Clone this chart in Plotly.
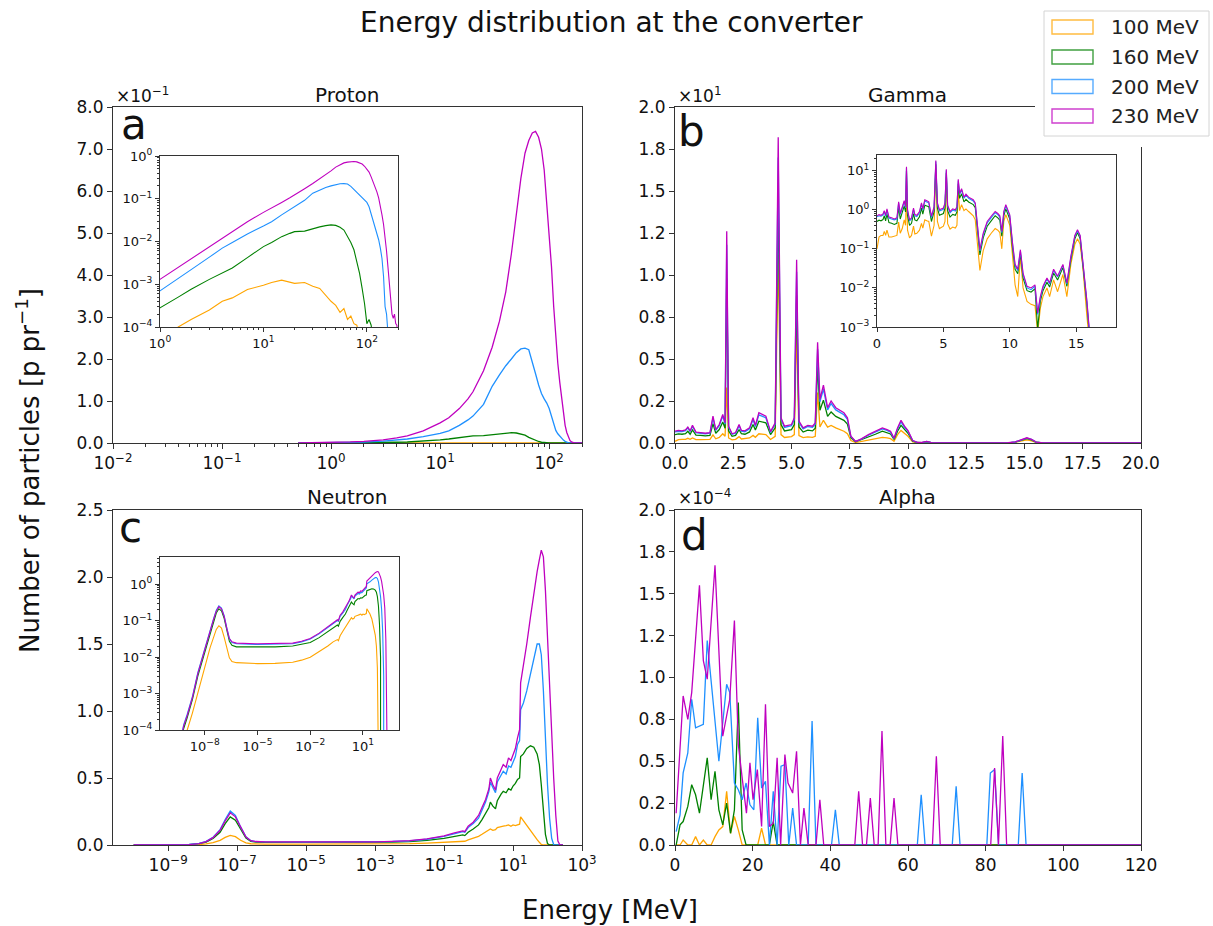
import plotly.graph_objects as go

FONT = "DejaVu Sans"
W, H = 1213, 926

LABELS = ["100 MeV", "160 MeV", "200 MeV", "230 MeV"]
COLORS = ["#FFA500", "#008000", "#1E90FF", "#BF00BF"]

# ---------------- Proton (energy in MeV, particles per primary) ----------------
proton_energy = [0.5, 0.7, 1.0, 1.5, 2.0, 3.0, 4.0, 5.0, 7.0, 10.0,
                 12.0, 15.0, 18.0, 20.0, 25.0, 30.0, 35.0, 40.0, 45.0, 50.0,
                 55.0, 60.0, 65.0, 70.0, 75.0, 80.0, 85.0, 90.0, 95.0, 100.0,
                 105.0, 110.0, 115.0, 120.0, 125.0, 130.0, 135.0, 140.0, 145.0, 150.0,
                 155.0, 160.0, 165.0, 170.0, 175.0, 180.0, 185.0, 190.0, 195.0, 200.0]
proton_100 = [1e-5, 2e-5, 4e-5, 1e-4, 1.5e-4, 2.5e-4, 4e-4, 4.8e-4, 7.5e-4, 9.5e-4,
              1.1e-3, 1.25e-3, 1.1e-3, 1.05e-3, 1.1e-3, 9e-4, 8e-4, 5.5e-4, 4e-4, 3.2e-4,
              2.2e-4, 2.7e-4, 1.5e-4, 1.8e-4, 1.2e-4, 1.1e-4, 6e-5, 3e-5, 1e-5, 1e-5,
              1e-5, 1e-5, 1e-5, 1e-5, 1e-5, 1e-5, 1e-5, 1e-5, 1e-5, 1e-5,
              1e-5, 1e-5, 1e-5, 1e-5, 1e-5, 1e-5, 1e-5, 1e-5, 1e-5, 1e-5]
proton_160 = [8e-5, 1.5e-4, 2.8e-4, 5e-4, 7.6e-4, 1.3e-3, 1.8e-3, 2.4e-3, 4.2e-3, 7.6e-3,
              9.5e-3, 0.013, 0.0155, 0.017, 0.0175, 0.02, 0.022, 0.0235, 0.0245, 0.0238,
              0.0215, 0.0185, 0.0135, 0.0095, 0.0064, 3.6e-3, 1.8e-3, 8e-4, 3.5e-4, 1.2e-4,
              1.5e-4, 1.1e-4, 3e-5, 1e-5, 1e-5, 1e-5, 1e-5, 1e-5, 1e-5, 1e-5,
              1e-5, 1e-5, 1e-5, 1e-5, 1e-5, 1e-5, 1e-5, 1e-5, 1e-5, 1e-5]
proton_200 = [2e-4, 4e-4, 7e-4, 1.4e-3, 2.2e-3, 4.3e-3, 7e-3, 9.5e-3, 0.015, 0.023,
              0.029, 0.042, 0.055, 0.064, 0.092, 0.135, 0.162, 0.184, 0.200, 0.215,
              0.224, 0.226, 0.222, 0.195, 0.165, 0.138, 0.118, 0.105, 0.095, 0.082,
              0.065, 0.045, 0.03, 0.022, 0.016, 0.011, 0.007, 0.004, 1.5e-3, 3e-4,
              2e-4, 5e-5, 1e-5, 1e-5, 1e-5, 1e-5, 1e-5, 1e-5, 1e-5, 1e-5]
proton_230 = [3.5e-4, 7e-4, 1.3e-3, 2.5e-3, 3.8e-3, 7.5e-3, 0.012, 0.017, 0.029, 0.048,
              0.06, 0.082, 0.105, 0.122, 0.172, 0.228, 0.29, 0.36, 0.45, 0.55,
              0.63, 0.69, 0.72, 0.738, 0.742, 0.728, 0.70, 0.65, 0.575, 0.50,
              0.42, 0.325, 0.25, 0.19, 0.145, 0.105, 0.07, 0.042, 0.025, 0.013,
              0.006, 2.5e-3, 1e-3, 3e-4, 2e-4, 1.6e-4, 2e-4, 1.2e-4, 1.1e-4, 5e-5]

# ---------------- Gamma ----------------
gamma_energy = [0.0, 0.15, 0.3, 0.45, 0.55, 0.65, 0.75, 0.9, 1.1, 1.3,
                1.5, 1.63, 1.75, 1.9, 2.05, 2.15, 2.22, 2.3, 2.45, 2.6,
                2.75, 2.85, 3.0, 3.2, 3.35, 3.45, 3.6, 3.75, 3.9, 4.1,
                4.3, 4.43, 4.55, 4.7, 4.85, 5.0, 5.12, 5.22, 5.32, 5.5,
                5.7, 5.9, 6.02, 6.12, 6.22, 6.37, 6.55, 6.7, 6.9, 7.1,
                7.25, 7.4, 7.55, 7.75, 8.0, 8.3, 8.6, 8.9, 9.1, 9.25,
                9.4, 9.55, 9.7, 9.85, 10.0, 10.2, 10.4, 10.6, 10.8, 11.0,
                11.3, 11.6, 11.9, 12.1, 12.3, 12.5, 12.8, 13.0, 13.3, 13.6,
                14.0, 14.3, 14.6, 14.9, 15.1, 15.3, 15.5, 15.8, 16.0, 16.2,
                18.0, 20.0]
gamma_100 = [0.10, 0.20, 0.22, 0.22, 0.28, 0.22, 0.30, 0.20, 0.20, 0.21,
             0.22, 0.48, 0.25, 0.33, 0.55, 0.40, 3.30, 0.30, 0.19, 0.22,
             0.38, 0.24, 0.25, 0.30, 0.45, 0.34, 0.55, 0.52, 0.50, 0.21,
             0.40, 11.2, 0.50, 0.33, 0.35, 0.38, 0.50, 6.85, 0.44, 0.32,
             0.36, 0.34, 0.40, 3.00, 0.95, 1.35, 0.95, 1.05, 0.90, 0.80,
             0.70, 0.55, 0.15, 0.028, 0.09, 0.18, 0.25, 0.33, 0.30, 0.26,
             0.10, 0.50, 0.75, 0.55, 0.40, 0.07, 0.012, 0.006, 0.065, 0.010,
             0.0045, 0.0038, 0.0035, 0.0007, 0.003, 0.006, 0.010, 0.006, 0.016, 0.008,
             0.022, 0.006, 0.040, 0.13, 0.18, 0.13, 0.035, 0.002, 0.0004, 0.0,
             0.0, 0.0]
gamma_160 = [0.50, 0.54, 0.52, 0.56, 0.70, 0.52, 0.78, 0.47, 0.45, 0.42,
             0.45, 1.15, 0.58, 0.80, 1.25, 0.88, 9.8, 0.72, 0.40, 0.45,
             0.80, 0.55, 0.52, 0.66, 1.10, 0.77, 1.30, 1.25, 1.20, 0.50,
             0.90, 14.5, 1.10, 0.72, 0.76, 0.80, 1.10, 8.8, 0.95, 0.65,
             0.76, 0.72, 0.88, 4.6, 1.95, 2.55, 1.58, 1.85, 1.58, 1.42,
             1.35, 1.12, 0.30, 0.07, 0.19, 0.38, 0.52, 0.70, 0.62, 0.54,
             0.21, 0.70, 1.05, 0.78, 0.58, 0.11, 0.030, 0.023, 0.075, 0.018,
             0.0085, 0.0078, 0.0095, 0.0009, 0.0045, 0.0085, 0.014, 0.0105, 0.024, 0.016,
             0.033, 0.011, 0.052, 0.18, 0.26, 0.18, 0.044, 0.004, 0.0006, 0.0,
             0.0, 0.0]
gamma_200 = [0.66, 0.70, 0.68, 0.73, 0.90, 0.68, 0.98, 0.61, 0.58, 0.55,
             0.58, 1.50, 0.75, 1.03, 1.60, 1.12, 11.8, 0.94, 0.52, 0.58,
             1.02, 0.70, 0.67, 0.84, 1.40, 0.98, 1.68, 1.58, 1.50, 0.63,
             1.12, 17.0, 1.40, 0.93, 0.98, 1.03, 1.40, 10.2, 1.21, 0.84,
             0.98, 0.93, 1.12, 5.6, 2.45, 3.20, 1.97, 2.35, 1.97, 1.78,
             1.68, 1.40, 0.37, 0.088, 0.23, 0.46, 0.63, 0.84, 0.75, 0.65,
             0.26, 0.84, 1.26, 0.93, 0.69, 0.14, 0.037, 0.028, 0.088, 0.022,
             0.010, 0.009, 0.011, 0.0021, 0.0055, 0.010, 0.017, 0.0125, 0.028, 0.019,
             0.038, 0.0125, 0.060, 0.21, 0.29, 0.21, 0.050, 0.0047, 0.0007, 0.0,
             0.0, 0.0]
gamma_230 = [0.70, 0.75, 0.72, 0.78, 0.95, 0.72, 1.05, 0.65, 0.62, 0.58,
             0.62, 1.60, 0.80, 1.10, 1.70, 1.20, 12.6, 1.00, 0.55, 0.62,
             1.10, 0.75, 0.72, 0.90, 1.50, 1.05, 1.80, 1.70, 1.60, 0.68,
             1.20, 18.2, 1.50, 1.00, 1.05, 1.10, 1.50, 10.9, 1.30, 0.90,
             1.05, 1.00, 1.20, 6.0, 2.60, 3.45, 2.10, 2.50, 2.10, 1.90,
             1.80, 1.50, 0.40, 0.095, 0.25, 0.50, 0.68, 0.90, 0.80, 0.70,
             0.28, 0.90, 1.35, 1.00, 0.74, 0.15, 0.040, 0.030, 0.095, 0.024,
             0.011, 0.010, 0.012, 0.0023, 0.006, 0.011, 0.018, 0.0135, 0.030, 0.020,
             0.040, 0.0135, 0.065, 0.22, 0.31, 0.22, 0.053, 0.005, 0.0008, 0.0,
             0.0, 0.0]

# ---------------- Neutron ----------------
neutron_energy = [1.0e-10, 3.2e-10, 6.3e-10, 1.0e-9, 2.0e-9, 4.0e-9, 7.9e-9, 1.26e-8, 2.0e-8, 3.2e-8,
                  4.5e-8, 6.3e-8, 8.9e-8, 1.26e-7, 1.8e-7, 2.5e-7, 3.5e-7, 6.3e-7, 1.0e-5, 1.0e-4,
                  1.0e-3, 3.2e-3, 1.0e-2, 3.2e-2, 0.1, 0.2, 0.35, 0.4, 0.5, 0.7,
                  1.0, 1.26, 1.6, 2.0, 2.2, 2.6, 3.1, 3.5, 4.5, 5.2,
                  6.3, 7.4, 8.7, 10.0, 11.7, 13.5, 15.5, 16.6, 20.0, 25.0,
                  32.0, 40.0, 50.0, 58.0, 66.0, 76.0, 87.0, 100.0, 115.0, 132.0,
                  151.0, 174.0, 200.0, 229.0, 282.0]
neutron_100 = [5e-7, 5e-6, 3e-5, 1e-4, 3e-4, 1.1e-3, 3.5e-3, 8e-3, 0.018, 0.035,
               0.057, 0.072, 0.062, 0.035, 0.016, 0.0095, 0.0075, 0.007, 0.0066, 0.0067,
               0.0072, 0.0082, 0.0098, 0.014, 0.02, 0.026, 0.03, 0.028, 0.038, 0.05,
               0.065, 0.08, 0.095, 0.11, 0.12, 0.11, 0.115, 0.13, 0.14, 0.14,
               0.145, 0.15, 0.14, 0.15, 0.145, 0.15, 0.155, 0.21, 0.18, 0.15,
               0.11, 0.07, 0.04, 0.02, 0.005, 1e-5, 0.0, 0.0, 0.0, 0.0,
               0.0, 0.0, 0.0, 0.0, 0.0]
neutron_160 = [1.5e-6, 2.5e-5, 1.1e-4, 2.2e-4, 7e-4, 3e-3, 0.0095, 0.022, 0.048, 0.095,
               0.16, 0.21, 0.185, 0.115, 0.052, 0.027, 0.021, 0.019, 0.019, 0.019,
               0.020, 0.022, 0.025, 0.034, 0.05, 0.065, 0.075, 0.07, 0.095, 0.12,
               0.15, 0.19, 0.24, 0.28, 0.32, 0.29, 0.27, 0.33, 0.38, 0.40,
               0.39, 0.42, 0.41, 0.44, 0.46, 0.49, 0.50, 0.66, 0.68, 0.72,
               0.74, 0.73, 0.68, 0.60, 0.45, 0.25, 0.08, 0.01, 3e-4, 0.0,
               0.0, 0.0, 0.0, 0.0, 0.0]
neutron_200 = [2e-6, 3e-5, 1.4e-4, 2.7e-4, 8.5e-4, 3.7e-3, 0.012, 0.027, 0.058, 0.115,
               0.19, 0.253, 0.22, 0.135, 0.062, 0.032, 0.025, 0.023, 0.022, 0.022,
               0.023, 0.026, 0.031, 0.043, 0.065, 0.086, 0.10, 0.095, 0.13, 0.16,
               0.20, 0.26, 0.32, 0.40, 0.47, 0.43, 0.39, 0.47, 0.52, 0.55,
               0.53, 0.59, 0.58, 0.62, 0.66, 0.75, 0.78, 1.01, 1.06, 1.15,
               1.28, 1.40, 1.50, 1.50, 1.42, 1.15, 0.78, 0.45, 0.20, 0.05,
               0.003, 0.0, 0.0, 0.0, 0.0]
neutron_230 = [2e-6, 3e-5, 1.3e-4, 2.5e-4, 8e-4, 3.5e-3, 0.011, 0.025, 0.055, 0.11,
               0.18, 0.24, 0.21, 0.13, 0.06, 0.032, 0.026, 0.024, 0.023, 0.023,
               0.024, 0.027, 0.032, 0.045, 0.068, 0.09, 0.105, 0.10, 0.14, 0.17,
               0.22, 0.28, 0.34, 0.42, 0.50, 0.45, 0.41, 0.50, 0.56, 0.60,
               0.58, 0.65, 0.63, 0.68, 0.72, 0.80, 0.86, 1.21, 1.33, 1.50,
               1.70, 1.88, 2.04, 2.13, 2.20, 2.15, 1.90, 1.55, 1.18, 0.80,
               0.50, 0.22, 0.03, 1e-4, 0.0]

# ---------------- Alpha (values in units of 1e-4) ----------------
ALPHA_UNIT = 1e-4
alpha_100_e = [0.3, 1.3, 2.1, 3.3, 4.3, 5.3, 6.3, 7.3, 8.3, 9.3, 10.3, 11.3, 12.3, 13.3,
               14.3, 15.3, 16.3, 17.3, 21.3, 22.3, 23.3, 120.0]
alpha_100_v = [0.0, 0.0, 0.03, 0.0, 0.0, 0.05, 0.0, 0.03, 0.0, 0.0, 0.05, 0.09, 0.11, 0.32,
               0.07, 0.17, 0.09, 0.0, 0.0, 0.10, 0.0, 0.0]
alpha_160_e = [0.3, 1.3, 2.1, 3.3, 4.3, 5.3, 6.3, 7.3, 8.3, 9.3, 10.3, 11.3, 12.3, 13.3,
               14.3, 15.3, 16.3, 17.3, 18.3, 24.3, 25.3, 26.3, 120.0]
alpha_160_v = [0.0, 0.12, 0.14, 0.23, 0.36, 0.30, 0.19, 0.35, 0.52, 0.27, 0.44, 0.21, 0.12, 0.25,
               0.07, 0.21, 0.85, 0.09, 0.0, 0.0, 0.14, 0.0, 0.0]
alpha_200_e = [0.3, 1.3, 2.1, 3.3, 4.3, 5.3, 7.3, 8.3, 11.3, 13.3, 14.1, 15.3, 16.3, 17.3,
               18.3, 19.3, 20.3, 21.3, 22.3, 23.3, 24.3, 25.3, 26.3, 27.3, 28.3, 29.3, 30.3,
               31.3, 34.3, 35.3, 36.3, 40.3, 41.3, 42.3, 62.4, 63.4, 64.4, 71.4, 72.4, 73.4,
               80.3, 81.2, 82.3, 83.3, 88.4, 89.4, 90.4, 120.0]
alpha_200_v = [0.08, 0.18, 0.43, 0.55, 0.87, 0.70, 0.72, 1.22, 0.50, 0.96, 0.91, 0.37, 0.33, 0.27,
               0.37, 0.24, 0.21, 0.76, 0.34, 0.38, 0.0, 0.32, 0.0, 0.47, 0.48, 0.0, 0.22,
               0.0, 0.0, 0.74, 0.0, 0.0, 0.21, 0.0, 0.0, 0.30, 0.0, 0.0, 0.35, 0.0,
               0.0, 0.43, 0.45, 0.0, 0.0, 0.43, 0.0, 0.0]
alpha_230_e = [0.3, 2.1, 3.3, 4.3, 6.3, 7.3, 8.3, 10.3, 12.3, 14.1, 15.3, 16.3, 17.3, 18.4,
               19.3, 20.1, 21.2, 22.3, 23.3, 24.3, 25.3, 26.3, 27.2, 28.3, 29.1, 30.3, 31.3,
               32.3, 33.2, 34.3, 36.3, 37.3, 38.3, 46.3, 47.3, 48.3, 49.3, 50.3, 51.3, 52.3,
               53.3, 54.3, 55.4, 56.4, 57.4, 66.3, 67.3, 68.3, 81.3, 82.3, 83.3, 84.4, 85.4, 120.0]
alpha_230_v = [0.19, 0.89, 0.75, 0.91, 1.55, 1.10, 0.99, 1.67, 0.65, 0.87, 1.34, 0.60, 0.40, 0.19,
               0.49, 0.27, 0.45, 0.11, 0.84, 0.11, 0.13, 0.52, 0.0, 0.54, 0.37, 0.31, 0.56,
               0.0, 0.22, 0.0, 0.0, 0.27, 0.0, 0.0, 0.32, 0.0, 0.0, 0.28, 0.0, 0.0,
               0.68, 0.0, 0.0, 0.28, 0.0, 0.0, 0.53, 0.0, 0.0, 0.46, 0.0, 0.65, 0.0, 0.0]

# ---------------- Tick labels ----------------
quarter_text = ["0.0", "0.2", "0.5", "0.8", "1.0", "1.2", "1.5", "1.8", "2.0"]
proton_ytext = ["0.0", "1.0", "2.0", "3.0", "4.0", "5.0", "6.0", "7.0", "8.0"]
neutron_ytext = ["0.0", "0.5", "1.0", "1.5", "2.0", "2.5"]


def sup(b, e):
    return "%s<sup>%s</sup>" % (b, e.replace("-", "\u2212"))


def pxx(p):
    return p / W


def pxy(p):
    return 1 - p / H


def minor_log(lo, hi):
    vals = []
    for k in range(lo, hi + 1):
        for m in range(2, 10):
            vals.append(m * 10.0 ** k)
    return vals


fig = go.Figure()

series = {
    "p": (proton_energy, [proton_100, proton_160, proton_200, proton_230]),
    "g": (gamma_energy, [gamma_100, gamma_160, gamma_200, gamma_230]),
    "n": (neutron_energy, [neutron_100, neutron_160, neutron_200, neutron_230]),
}

panels = [("p", "x", "y"), ("g", "x2", "y2"), ("n", "x3", "y3"),
          ("p", "x5", "y5"), ("g", "x6", "y6"), ("n", "x7", "y7")]
for key, xa, ya in panels:
    ex, ys = series[key]
    lw = 1.3 if xa in ("x", "x2", "x3") else 1.1
    for i, yv in enumerate(ys):
        fig.add_trace(go.Scatter(x=ex, y=yv, mode="lines", xaxis=xa, yaxis=ya,
                                 line=dict(color=COLORS[i], width=lw), showlegend=False,
                                 name=LABELS[i]))

alpha = [(alpha_100_e, alpha_100_v), (alpha_160_e, alpha_160_v),
         (alpha_200_e, alpha_200_v), (alpha_230_e, alpha_230_v)]
for i, (ex, ev) in enumerate(alpha):
    fig.add_trace(go.Scatter(x=ex, y=[v * ALPHA_UNIT for v in ev], mode="lines",
                             xaxis="x4", yaxis="y4", line=dict(color=COLORS[i], width=1.3),
                             showlegend=False, name=LABELS[i]))

LC = "#333333"


def ax(size=17, **kw):
    d = dict(showline=True, linecolor=LC, linewidth=1, mirror=True, ticks="outside",
             ticklen=5, tickwidth=1, tickcolor=LC, showgrid=False, zeroline=False,
             automargin=False,
             tickfont=dict(family=FONT, size=size, color="#111111"))
    d.update(kw)
    return d


def minor(vals, ln=3):
    return dict(ticks="outside", ticklen=ln, tickwidth=0.8, tickcolor=LC,
                tickmode="array", tickvals=vals, showgrid=False)


# domains (pixel positions of plot areas)
A_X = [pxx(113), pxx(582)]
B_X = [pxx(675), pxx(1141)]
TOP_Y = [pxy(443), pxy(107)]
BOT_Y = [pxy(845), pxy(510)]

layout = dict(
    template="none",
    width=W, height=H, autosize=False,
    margin=dict(l=0, r=0, t=0, b=0, pad=0, autoexpand=False),
    paper_bgcolor="white", plot_bgcolor="white", showlegend=False,
    font=dict(family=FONT, color="#111111"),
    xaxis=ax(type="log", range=[-2, 2.301], domain=A_X, anchor="y",
             tickmode="array", tickvals=[0.01, 0.1, 1, 10, 100],
             ticktext=[sup("10", "-2"), sup("10", "-1"), sup("10", "0"), sup("10", "1"), sup("10", "2")],
             minor=minor(minor_log(-2, 2))),
    yaxis=ax(range=[0, 0.8], domain=TOP_Y, anchor="x", tickmode="array",
             tickvals=[0, 0.1, 0.2, 0.3, 0.4, 0.5, 0.6, 0.7, 0.8], ticktext=proton_ytext),
    xaxis2=ax(range=[0, 20], domain=B_X, anchor="y2", tickmode="array",
              tickvals=[0, 2.5, 5, 7.5, 10, 12.5, 15, 17.5, 20],
              ticktext=["0.0", "2.5", "5.0", "7.5", "10.0", "12.5", "15.0", "17.5", "20.0"]),
    yaxis2=ax(range=[0, 20], domain=TOP_Y, anchor="x2", tickmode="array",
              tickvals=[0, 2.5, 5, 7.5, 10, 12.5, 15, 17.5, 20], ticktext=quarter_text),
    xaxis3=ax(type="log", range=[-10.6, 3.0], domain=A_X, anchor="y3", tickmode="array",
              tickvals=[1e-9, 1e-7, 1e-5, 1e-3, 1e-1, 10, 1000],
              ticktext=[sup("10", "-9"), sup("10", "-7"), sup("10", "-5"), sup("10", "-3"),
                        sup("10", "-1"), sup("10", "1"), sup("10", "3")]),
    yaxis3=ax(range=[0, 2.5], domain=BOT_Y, anchor="x3", tickmode="array",
              tickvals=[0, 0.5, 1.0, 1.5, 2.0, 2.5], ticktext=neutron_ytext),
    xaxis4=ax(range=[0, 120], domain=B_X, anchor="y4", tickmode="array",
              tickvals=[0, 20, 40, 60, 80, 100, 120]),
    yaxis4=ax(range=[0, 2e-4], domain=BOT_Y, anchor="x4", tickmode="array",
              tickvals=[0, 0.25e-4, 0.5e-4, 0.75e-4, 1e-4, 1.25e-4, 1.5e-4, 1.75e-4, 2e-4],
              ticktext=quarter_text),
    # insets
    xaxis5=ax(13, type="log", range=[0, 2.301], domain=[pxx(160), pxx(398)], anchor="y5",
              tickmode="array", tickvals=[1, 10, 100], ticklen=4,
              ticktext=[sup("10", "0"), sup("10", "1"), sup("10", "2")],
              minor=minor(minor_log(0, 2), 2)),
    yaxis5=ax(13, type="log", range=[-4, 0], domain=[pxy(327), pxy(156)], anchor="x5",
              tickmode="array", tickvals=[1e-4, 1e-3, 1e-2, 1e-1, 1], ticklen=4,
              ticktext=[sup("10", "-4"), sup("10", "-3"), sup("10", "-2"), sup("10", "-1"), sup("10", "0")],
              minor=minor(minor_log(-4, -1), 2)),
    xaxis6=ax(13, range=[0, 18], domain=[pxx(877), pxx(1116)], anchor="y6", ticklen=4,
              tickmode="array", tickvals=[0, 5, 10, 15]),
    yaxis6=ax(13, type="log", range=[-3, 1.40], domain=[pxy(327), pxy(155)], anchor="x6",
              tickmode="array", tickvals=[1e-3, 1e-2, 1e-1, 1, 10], ticklen=4,
              ticktext=[sup("10", "-3"), sup("10", "-2"), sup("10", "-1"), sup("10", "0"), sup("10", "1")],
              minor=minor(minor_log(-3, 1), 2)),
    xaxis7=ax(13, type="log", range=[-10.55, 3.05], domain=[pxx(160), pxx(399)], anchor="y7",
              tickmode="array", tickvals=[1e-8, 1e-5, 1e-2, 10], ticklen=4,
              ticktext=[sup("10", "-8"), sup("10", "-5"), sup("10", "-2"), sup("10", "1")]),
    yaxis7=ax(13, type="log", range=[-4, 0.74], domain=[pxy(730), pxy(557)], anchor="x7",
              tickmode="array", tickvals=[1e-4, 1e-3, 1e-2, 1e-1, 1], ticklen=4,
              ticktext=[sup("10", "-4"), sup("10", "-3"), sup("10", "-2"), sup("10", "-1"), sup("10", "0")],
              minor=minor(minor_log(-4, 0), 2)),
)

ann = []


def text(x, y, s, size, xanchor="center", yanchor="middle", angle=0, color="#111111"):
    ann.append(dict(x=pxx(x), y=pxy(y), xref="paper", yref="paper", text=s, showarrow=False,
                    xanchor=xanchor, yanchor=yanchor, textangle=angle,
                    font=dict(family=FONT, size=size, color=color)))


text(611, 23, "Energy distribution at the converter", 28)
text(610, 910, "Energy [MeV]", 26)
text(28, 471, "Number of particles [p pr" + "<sup>\u22121</sup>]", 26, angle=-90)
# subplot titles
text(347, 95, "Proton", 20)
text(908, 95, "Gamma", 20)
text(347, 497, "Neutron", 20)
text(908, 497, "Alpha", 20)
# offset texts
text(114, 95, "\u00d710<sup>\u22121</sup>", 17, xanchor="left")
text(676, 95, "\u00d710<sup>1</sup>", 17, xanchor="left")
text(676, 497, "\u00d710<sup>\u22124</sup>", 17, xanchor="left")
# panel letters
text(119, 124, "a", 42, xanchor="left")
text(676, 132, "b", 42, xanchor="left")
text(117, 527, "c", 42, xanchor="left")
text(679, 535, "d", 42, xanchor="left")

shapes = []
# white cover behind legend and legend frame
shapes.append(dict(type="rect", xref="paper", yref="paper", x0=pxx(1035), x1=1.0,
                   y0=pxy(147), y1=1.0, fillcolor="white", line=dict(width=0), layer="above"))
shapes.append(dict(type="rect", xref="paper", yref="paper", x0=pxx(1044), x1=pxx(1209),
                   y0=pxy(136), y1=pxy(11), fillcolor="white",
                   line=dict(color="#d4d4d4", width=1), layer="above"))
leg_y = [27, 57, 86.5, 116]
for i in range(4):
    shapes.append(dict(type="rect", xref="paper", yref="paper", x0=pxx(1052), x1=pxx(1093),
                       y0=pxy(leg_y[i] + 7), y1=pxy(leg_y[i] - 7), fillcolor="rgba(0,0,0,0)",
                       line=dict(color=COLORS[i], width=1.4), opacity=0.75, layer="above"))
    text(1109, leg_y[i], LABELS[i], 20, xanchor="left", color="#222222")

layout["annotations"] = ann
layout["shapes"] = shapes
fig.update_layout(**layout)
fig.write_html("out.html", config={"displayModeBar": False},
               post_script="document.body.style.margin='0';document.body.style.overflow='hidden';")
